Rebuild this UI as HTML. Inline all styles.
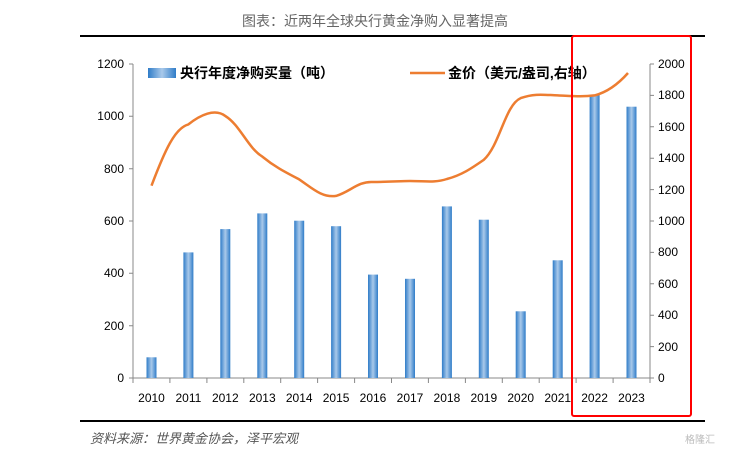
<!DOCTYPE html><html><head><meta charset="utf-8"><style>body{margin:0;background:#fff}svg{display:block}text{font-family:"Liberation Sans","Noto Sans CJK SC",sans-serif}</style></head><body>
<svg width="750" height="453" viewBox="0 0 750 453">
<defs><linearGradient id="g" x1="0" x2="1"><stop offset="0" stop-color="#2f7cc8"/><stop offset="0.5" stop-color="#a9c9ea"/><stop offset="1" stop-color="#2f7cc8"/></linearGradient></defs>
<text x="375" y="26" text-anchor="middle" font-size="14" fill="#666" font-family="Noto Serif CJK SC,serif">图表：近两年全球央行黄金净购入显著提高</text>
<line x1="80" y1="36" x2="705" y2="36" stroke="#000" stroke-width="2"/>
<line x1="80" y1="421" x2="705" y2="421" stroke="#000" stroke-width="2"/>
<g stroke="#888" stroke-width="1">
<line x1="133" y1="64" x2="133" y2="378"/><line x1="133" y1="378" x2="650" y2="378"/><line x1="650" y1="64" x2="650" y2="378"/>
<path d="M129 64h4M129 116.3h4M129 168.7h4M129 221h4M129 273.3h4M129 325.7h4M129 378h4"/>
<path d="M650 64h4M650 95.4h4M650 126.8h4M650 158.2h4M650 189.6h4M650 221h4M650 252.4h4M650 283.8h4M650 315.2h4M650 346.6h4M650 378h4"/>
<path d="M133 378v5M169.9 378v5M206.9 378v5M243.8 378v5M280.7 378v5M317.6 378v5M354.6 378v5M391.5 378v5M428.4 378v5M465.4 378v5M502.3 378v5M539.2 378v5M576.1 378v5M613.1 378v5M650 378v5"/>
</g>
<g font-size="12" fill="#000" text-anchor="end">
<text x="124" y="68">1200</text><text x="124" y="120">1000</text><text x="124" y="173">800</text><text x="124" y="225">600</text><text x="124" y="277">400</text><text x="124" y="330">200</text><text x="124" y="382">0</text>
</g>
<g font-size="12" fill="#000">
<text x="658" y="68">2000</text><text x="658" y="99">1800</text><text x="658" y="131">1600</text><text x="658" y="162">1400</text><text x="658" y="194">1200</text><text x="658" y="225">1000</text><text x="658" y="256">800</text><text x="658" y="288">600</text><text x="658" y="319">400</text><text x="658" y="351">200</text><text x="658" y="382">0</text>
</g>
<g font-size="12" fill="#000" text-anchor="middle">
<text x="151.5" y="402">2010</text><text x="188.4" y="402">2011</text><text x="225.3" y="402">2012</text><text x="262.3" y="402">2013</text><text x="299.2" y="402">2014</text><text x="336.1" y="402">2015</text><text x="373" y="402">2016</text><text x="410" y="402">2017</text><text x="446.9" y="402">2018</text><text x="483.8" y="402">2019</text><text x="520.7" y="402">2020</text><text x="557.7" y="402">2021</text><text x="594.6" y="402">2022</text><text x="631.5" y="402">2023</text>
</g>
<g fill="url(#g)">
<rect x="146.5" y="357.3" width="10" height="20.7"/>
<rect x="183.4" y="252.4" width="10" height="125.6"/>
<rect x="220.3" y="229.1" width="10" height="148.9"/>
<rect x="257.3" y="213.4" width="10" height="164.6"/>
<rect x="294.2" y="220.7" width="10" height="157.3"/>
<rect x="331.1" y="226.2" width="10" height="151.8"/>
<rect x="368" y="274.6" width="10" height="103.4"/>
<rect x="405" y="278.8" width="10" height="99.2"/>
<rect x="441.9" y="206.4" width="10" height="171.6"/>
<rect x="478.8" y="219.7" width="10" height="158.3"/>
<rect x="515.7" y="311.3" width="10" height="66.7"/>
<rect x="552.7" y="260.3" width="10" height="117.7"/>
<rect x="589.6" y="94.9" width="10" height="283.1"/>
<rect x="626.5" y="106.7" width="10" height="271.3"/>
</g>
<path d="M151.5 185.7C165 150 175 128 188.4 124.4C200 115 215 108 225.3 116C240 125 248 148 262.3 156.6C275 167 285 172 299.2 179.4C312 188 322 198 336.1 195.9C350 192 358 181 373 182C390 182 400 181 410 181C425 181 435 183 446.9 179C462 175 472 168 483.8 159.8C500 145 505 105 520.7 98.1C535 93 545 95 557.7 95.4C572 96 582 97 594.6 95.4C608 92 620 82 628 73" fill="none" stroke="#ed7d31" stroke-width="2.5"/>
<rect x="148" y="68" width="28" height="10" fill="url(#g)"/>
<text x="180" y="78" font-size="14" font-weight="bold" fill="#000">央行年度净购买量（吨）</text>
<line x1="410" y1="73" x2="445" y2="73" stroke="#ed7d31" stroke-width="2.5"/>
<text x="448" y="78" font-size="14" font-weight="bold" fill="#000">金价（美元/盎司,右轴）</text>
<rect x="572" y="36" width="119" height="380" fill="none" stroke="#f00" stroke-width="2" rx="2"/>
<text x="90" y="443" font-size="13" fill="#555" font-style="italic">资料来源：世界黄金协会，泽平宏观</text>
<text x="685" y="443" font-size="10" fill="#bbb">格隆汇</text>
</svg>
</body></html>
